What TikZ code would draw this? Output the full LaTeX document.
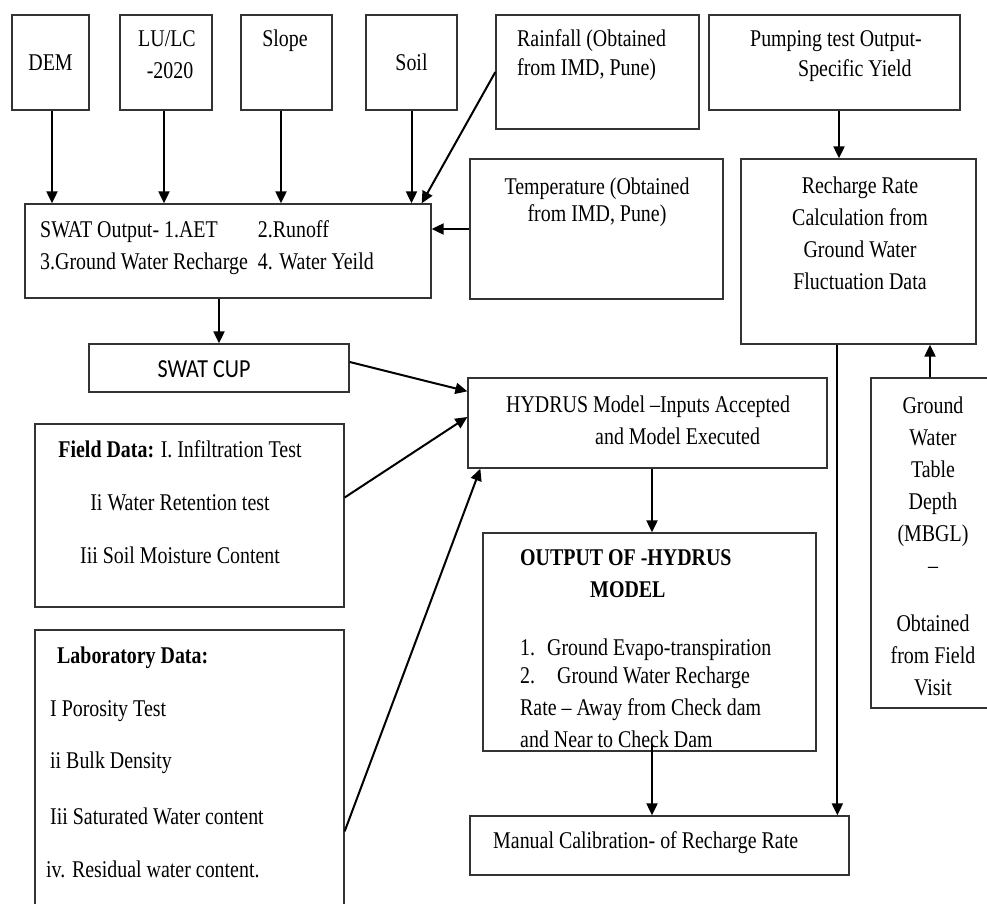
\documentclass[tikz,border=0pt]{standalone}
\usepackage{fontspec}
\setmainfont{Liberation Serif}[FakeStretch=0.83]
\newfontfamily\cupfont{Carlito}[FakeStretch=0.85]
\usetikzlibrary{positioning, arrows.meta, calc}

\begin{document}
\begin{tikzpicture}[x=1pt, y=-1pt,
    font=\fontsize{24}{32}\selectfont,
    box/.style={draw=black!80, line width=1.3pt, inner sep=0pt},
    txt/.style={inner sep=0pt, align=center},
    ltxt/.style={inner sep=0pt, align=left, anchor=west},
    flow/.style={-{Triangle[length=12pt, width=11pt]}, line width=2pt, draw=black}
]
\useasboundingbox (0,0) rectangle (987,904);
\clip (0,0) rectangle (987,904);

% input layers on top
\node[box, minimum width=77, minimum height=95] (dem) at (50.5,62.5) {DEM};
\node[box, minimum width=92, minimum height=95] (lulc) at (166,62.5) {};
\node[txt] at (167,55) {LU/LC\\\hspace*{6pt}-2020};
\node[box, minimum width=91, minimum height=95] (slope) at (286.5,62.5) {};
\node[txt] at (285,41) {Slope};
\node[box, minimum width=91, minimum height=95] (soil) at (411.5,62.5) {Soil};
\node[box, minimum width=203, minimum height=114] (rain) at (597.5,72) {};
\node[ltxt] at (517,55) {Rainfall (Obtained\\[-3pt]from IMD, Pune)};
\node[box, minimum width=251, minimum height=95] (pump) at (834.5,62.5) {};
\node[ltxt] at (750,56) {Pumping test Output-\\[-2pt]\hspace*{48pt}Specific Yield};

% SWAT row
\node[box, minimum width=406, minimum height=94] (swat) at (228,251) {};
\node[ltxt] at (40,247.5) {\begin{tabular}{@{}l@{\hspace{10pt}}l@{}}
    SWAT Output- 1.AET & 2.Runoff\\
    3.Ground Water Recharge & 4. Water Yeild
  \end{tabular}};
\node[box, minimum width=253, minimum height=140] (temp) at (596.5,229) {};
\node[txt] at (597,202.5) {Temperature (Obtained\\[-5pt]from IMD, Pune)};
\node[box, minimum width=235, minimum height=185] (rech) at (858.5,251.5) {};
\node[txt] at (860,233.5) {Recharge Rate\\Calculation from\\Ground Water\\Fluctuation Data};

% calibration and field inputs
\node[box, minimum width=260, minimum height=48] (cup) at (219,368) {};
\node[txt, font=\cupfont\fontsize{26}{30}\selectfont] at (204,369) {SWAT CUP};
\node[box, minimum width=309, minimum height=183] (field) at (189.5,515.5) {};
\node[txt] at (180,502) {\textbf{Field Data:} I. Infiltration Test\\[21pt]
    Ii Water Retention test\\[21pt]Iii Soil Moisture Content};
\node[box, minimum width=309, minimum height=290] (lab) at (189.5,775) {};
\node[ltxt] at (46,762) {\hspace*{11pt}\textbf{Laboratory Data:}\\[21pt]
    \hspace*{4pt}I Porosity Test\\[20pt]
    \hspace*{4pt}ii Bulk Density\\[24pt]
    \hspace*{4pt}Iii Saturated Water content\\[21pt]
    iv. Residual water content.};

% HYDRUS model
\node[box, minimum width=359, minimum height=90] (hyd) at (647.5,423) {};
\node[ltxt] at (506,420) {HYDRUS Model --Inputs Accepted\\\hspace*{89pt}and Model Executed};
\node[box, minimum width=333, minimum height=218] (out) at (649.5,642) {};
\node[ltxt] at (520,649) {\textbf{OUTPUT OF -HYDRUS}\\
    \hspace*{70pt}\textbf{MODEL}\\[26pt]
    \makebox[27pt][l]{1.}Ground Evapo-transpiration\\[-4pt]
    \makebox[37pt][l]{2.}Ground Water Recharge\\
    Rate -- Away from Check dam\\
    and Near to Check Dam};
\node[box, minimum width=124, minimum height=330] (gwt) at (933,543) {};
\node[txt] at (933,546.5) {Ground\\Water\\Table\\Depth\\(MBGL)\\--\\[26pt]Obtained\\from Field\\Visit};
\node[box, minimum width=379, minimum height=59] (man) at (659.5,845.5) {};
\node[ltxt] at (493,843) {Manual Calibration- of Recharge Rate};

% connectors
\foreach \n/\dx in {dem/1.5, lulc/-2, slope/-5.5, soil/0}{
  \draw[flow] ([xshift=\dx pt]\n.south) -- ([xshift=\dx pt]\n.south |- swat.north);}
\draw[flow] (rain.west) -- ($(swat.north east)+(-10,0)$);
\draw[flow] (temp.west) -- (temp.west -| swat.east);
\draw[flow] (cup.north |- swat.south) -- (cup.north);
\draw[flow] ($(cup.east)+(0,-6)$) -- ($(hyd.north west)+(0,14)$);
\draw[flow] ($(field.east)+(0,-18)$) -- ($(hyd.west)+(0,-6)$);
\draw[flow] ($(lab.north east)+(0,202)$) -- ($(hyd.south west)+(13,0)$);
\draw[flow] ($(hyd.south)+(4.5,0)$) -- ($(hyd.south |- out.north)+(4.5,0)$);
\draw[flow] ($(out.south)+(2.5,-8)$) -- ($(out.south |- man.north)+(2.5,0)$);
\draw[flow] ($(pump.south)+(4.5,0)$) -- ($(pump.south |- rech.north)+(4.5,0)$);
\draw[flow] ($(rech.south west)+(97,0)$) -- ($(rech.south west |- man.north)+(97,0)$);
\draw[flow] ($(gwt.north)+(-3,0)$) -- ($(gwt.north |- rech.south)+(-3,0)$);
\end{tikzpicture}
\end{document}
